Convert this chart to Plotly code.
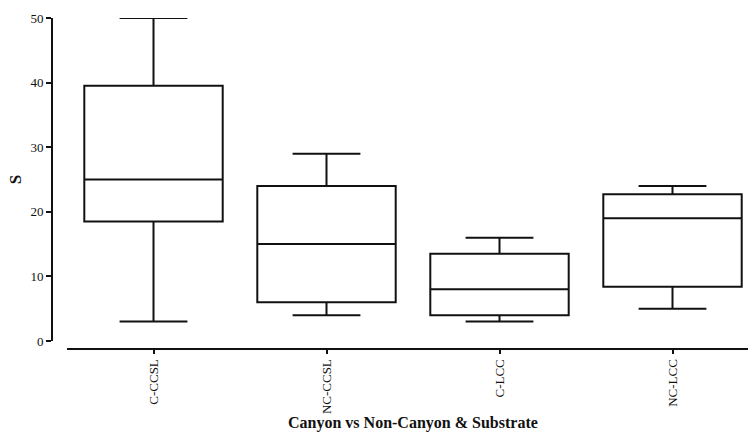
import plotly.graph_objects as go

categories = ["C-CCSL", "NC-CCSL", "C-LCC", "NC-LCC"]
lower_whisker = [3, 4, 3, 5]
q1_values = [18.5, 6, 4, 8.4]
median_values = [25, 15, 8, 19]
q3_values = [39.5, 24, 13.5, 22.7]
upper_whisker = [50, 29, 16, 24]
y_ticks = [0, 10, 20, 30, 40, 50]

ink = "#111111"
serif = "Liberation Serif, Times New Roman, serif"

W, H = 748, 434
ml, mr, mt, mb = 52, 0, 18, 85
plot_w = W - ml - mr
plot_h = H - mt - mb

fig = go.Figure()
fig.add_trace(go.Box(
    x=categories,
    q1=q1_values,
    median=median_values,
    q3=q3_values,
    lowerfence=lower_whisker,
    upperfence=upper_whisker,
    boxpoints=False,
    width=0.8,
    whiskerwidth=0.49,
    line=dict(color=ink, width=2),
    fillcolor="rgba(255,255,255,0)",
    showlegend=False,
    hoverinfo="skip",
))

fig.add_annotation(
    text="<b>Canyon vs Non-Canyon &amp; Substrate</b>",
    x=1.5, xref="x",
    y=(mt + plot_h - 423) / plot_h, yref="paper",
    xanchor="center", yanchor="middle",
    showarrow=False,
    borderpad=0,
    font=dict(family=serif, size=16, color=ink),
)

fig.update_layout(
    width=W, height=H,
    margin=dict(l=ml, r=mr, t=mt, b=mb, autoexpand=False),
    plot_bgcolor="white",
    paper_bgcolor="white",
    xaxis=dict(
        type="category",
        categoryorder="array", categoryarray=categories,
        domain=[(67 - ml) / plot_w, 1],
        anchor="free", position=0,
        range=[-0.5, -0.5 + (W - 67) / 173.0],
        showline=True, linecolor=ink, linewidth=2,
        ticks="outside", ticklen=4, tickwidth=2, tickcolor=ink,
        tickangle=-90,
        tickfont=dict(family=serif, size=13, color=ink),
        showgrid=False, zeroline=False,
        automargin=False,
    ),
    yaxis=dict(
        domain=[(mt + plot_h - 341) / plot_h, 1],
        anchor="free", position=0,
        range=[0, 50],
        tickvals=y_ticks,
        showline=True, linecolor=ink, linewidth=2,
        ticks="outside", ticklen=5, tickwidth=2, tickcolor=ink,
        tickfont=dict(family=serif, size=13, color=ink),
        showgrid=False, zeroline=False,
        automargin=False,
        title=dict(text="<b>S</b>", font=dict(family=serif, size=17, color=ink), standoff=3),
    ),
)

fig.write_html(
    "out.html",
    config={"displayModeBar": False},
    post_script="document.body.style.margin='0';document.body.style.overflow='hidden';",
)
